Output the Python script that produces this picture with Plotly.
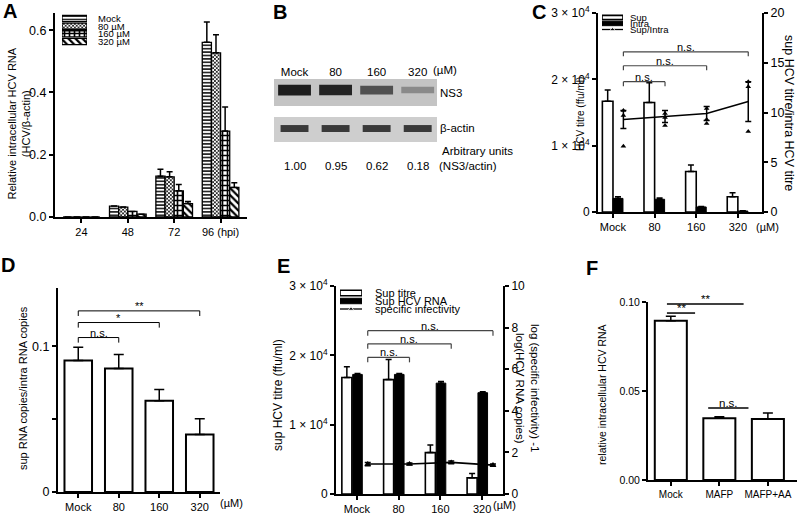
import plotly.graph_objects as go

W, H = 800, 514
def px(x): return x / W
def py(y): return 1 - y / H

FONT = "Arial, Liberation Sans, Helvetica, sans-serif"

# ---------------- Panel A data ----------------
a_times = ["24", "48", "72", "96"]
a_ticktext = ["24", "48", "72", "96 (hpi)"]
a_series = ["Mock", "80 µM", "160 µM", "320 µM"]
a_mock = [0.0, 0.035, 0.131, 0.561]
a_mock_err = [0.0, 0.0, 0.022, 0.065]
a_80 = [0.0, 0.032, 0.129, 0.527]
a_80_err = [0.0, 0.0, 0.016, 0.058]
a_160 = [0.0, 0.018, 0.084, 0.276]
a_160_err = [0.0, 0.0, 0.020, 0.077]
a_320 = [0.0, 0.009, 0.043, 0.095]
a_320_err = [0.0, 0.0, 0.007, 0.015]

# ---------------- Panel B data ----------------
b_lanes = ["Mock", "80", "160", "320"]
b_ns3_actin = ["1.00", "0.95", "0.62", "0.18"]
b_ns3_level = [1.00, 0.95, 0.62, 0.18]
b_actin_level = [1.0, 1.0, 1.0, 1.0]

# ---------------- Panel C data ----------------
c_doses = ["Mock", "80", "160", "320"]
c_sup = [16700, 16500, 6100, 2300]
c_sup_err = [1700, 3000, 1000, 600]
c_intra = [2050, 1920, 760, 150]
c_intra_err = [250, 200, 80, 40]
c_ratio = [9.3, 9.6, 9.9, 11.1]
c_ratio_err = [0.9, 0.6, 0.7, 2.0]
c_points = [[6.6, 9.7, 10.2], [8.7, 9.5, 9.9], [8.9, 9.3, 10.4], [8.1, 12.6, 13.1]]
c_sig = [(0, 1, 13.1, "n.s."), (0, 2, 14.7, "n.s."), (0, 3, 16.1, "n.s.")]

# ---------------- Panel D data ----------------
d_doses = ["Mock", "80", "160", "320"]
d_vals = [0.0902, 0.0847, 0.0627, 0.0394]
d_err = [0.0091, 0.0096, 0.0076, 0.0109]
d_sig = [(0, 1, 0.106, "n.s."), (0, 2, 0.1163, "*"), (0, 3, 0.1243, "**")]

# ---------------- Panel E data ----------------
e_doses = ["Mock", "80", "160", "320"]
e_titre = [16800, 16500, 5970, 2330]
e_titre_err = [1550, 2900, 1100, 630]
e_rna_log = [5.75, 5.75, 5.33, 4.87]
e_rna_err = [0.04, 0.04, 0.08, 0.04]
e_si = [1.44, 1.44, 1.52, 1.39]
e_si_err = [0.08, 0.05, 0.07, 0.05]
e_sig = [(0, 1, 6.57, "n.s."), (0, 2, 7.22, "n.s."), (0, 3, 7.85, "n.s.")]

# ---------------- Panel F data ----------------
f_groups = ["Mock", "MAFP", "MAFP+AA"]
f_vals = [0.0895, 0.0347, 0.0343]
f_err = [0.0025, 0.0008, 0.0033]
f_sig = [(-0.08, 0.5, 0.0938, "**"), (-0.08, 1.5, 0.0989, "**"), (0.77, 1.6, 0.0404, "n.s.")]

titre_ticks = [0, 10000, 20000, 30000]
titre_text = ["0", "1 × 10<sup>4</sup>", "2 × 10<sup>4</sup>", "3 × 10<sup>4</sup>"]

fig = go.Figure()
shapes = []
annotations = []

def tf(size):
    return dict(size=size, color="black", family=FONT)

def ax(**kw):
    d = dict(showline=True, linecolor="black", linewidth=2, ticks="outside", ticklen=4,
             tickwidth=1.5, tickcolor="black", showgrid=False, zeroline=False, automargin=False,
             tickfont=tf(11), fixedrange=True)
    d.update(kw)
    return d

def hidden(**kw):
    d = dict(visible=False, showgrid=False, zeroline=False, fixedrange=True, automargin=False)
    d.update(kw)
    return d

def text(x, y, t, size=10, xanchor="center", yanchor="middle", angle=0, bold=False, xref="paper", yref="paper", color="black", yshift=0):
    annotations.append(dict(x=x, y=y, xref=xref, yref=yref, text=("<b>%s</b>" % t) if bold else t,
                            showarrow=False, xanchor=xanchor, yanchor=yanchor, textangle=angle,
                            font=dict(size=size, color=color, family=FONT), yshift=yshift))

def bracket(xr, yr, x0, x1, y, drop, label, color, lw, size, ends=True):
    line = dict(color=color, width=lw)
    shapes.append(dict(type="line", xref=xr, yref=yr, x0=x0, x1=x1, y0=y, y1=y, line=line))
    if ends:
        shapes.append(dict(type="line", xref=xr, yref=yr, x0=x0, x1=x0, y0=y - drop, y1=y, line=line))
        shapes.append(dict(type="line", xref=xr, yref=yr, x0=x1, x1=x1, y0=y - drop, y1=y, line=line))
    text((x0 + x1) / 2, y, label, size=size, xref=xr, yref=yr, yanchor="bottom", yshift=-3)

def err(arr, color="black", w=3, sym=False):
    if sym:
        return dict(type="data", array=arr, symmetric=True, color=color, thickness=1.5, width=w)
    return dict(type="data", array=arr, arrayminus=[0] * len(arr), symmetric=False,
                color=color, thickness=1.5, width=w)

# ================= Panel A =================
a_vals = [a_mock, a_80, a_160, a_320]
a_errs = [a_mock_err, a_80_err, a_160_err, a_320_err]
a_pats = [("-", 3.4, 0.42), ("x", 2.6, 0.5), ("+", 5, 0.55), ("\\", 5, 0.45)]
for name, v, e, p in zip(a_series, a_vals, a_errs, a_pats):
    mk = dict(color="white", line=dict(color="black", width=1.3),
              pattern=dict(shape=p[0], size=p[1], solidity=p[2], fgcolor="black", bgcolor="white"))
    fig.add_trace(go.Bar(x=a_times, y=v, name=name, xaxis="x", yaxis="y", marker=mk,
                         error_y=err(e), showlegend=False))
    fig.add_trace(go.Bar(x=[1], y=[name], orientation="h", xaxis="x9", yaxis="y9", marker=mk,
                         width=0.8, offset=-0.4, showlegend=False))
    text(px(96), name, name, size=9.5, xanchor="left", yref="y9")

fig.update_layout(
    xaxis=ax(domain=[px(55), px(247)], range=[-0.57, 3.57], type="category", anchor="y",
             tickvals=a_times, ticktext=a_ticktext),
    yaxis=ax(domain=[py(217), py(13)], range=[0, 0.655], tickvals=[0, 0.2, 0.4, 0.6],
             tickformat=".1f", anchor="x", tickfont=tf(12.5)),
    xaxis9=hidden(domain=[px(62), px(87)], range=[0, 1], anchor="y9"),
    yaxis9=hidden(domain=[py(49), py(11)], type="category", categoryorder="array",
                  categoryarray=a_series, autorange="reversed", anchor="x9"),
)
text(px(18.5), py(124), "Relative intracellular HCV RNA<br>(HCV/β-actin)", size=11, angle=-90)

# ================= Panel B =================
shapes.append(dict(type="rect", xref="x2 domain", yref="y2", x0=0, x1=1, y0=0.571, y1=1,
                   fillcolor="rgb(196,196,196)", line=dict(width=0), layer="below"))
shapes.append(dict(type="rect", xref="x2 domain", yref="y2", x0=0, x1=1, y0=0, y1=0.397,
                   fillcolor="rgb(206,206,206)", line=dict(width=0), layer="below"))
ns3_col = ["rgba(25,25,25,%.2f)" % (0.2 + 0.78 * v) for v in b_ns3_level]
ns3_h = [0.09 + 0.08 * v for v in b_ns3_level]
fig.add_trace(go.Bar(x=b_lanes, y=ns3_h, base=[0.825 - h / 2 for h in ns3_h], xaxis="x2", yaxis="y2",
                     width=0.8, offset=-0.4, marker=dict(color=ns3_col, line=dict(width=0)), showlegend=False))
act_col = ["rgba(30,30,30,%.2f)" % (0.85 * v) for v in b_actin_level]
fig.add_trace(go.Bar(x=b_lanes, y=[0.11] * 4, base=[0.214 - 0.055] * 4, xaxis="x2", yaxis="y2",
                     width=0.68, offset=-0.34, marker=dict(color=act_col, line=dict(width=0)), showlegend=False))
fig.update_layout(
    xaxis2=dict(domain=[px(274), px(437)], range=[-0.5, 3.47], type="category", side="top",
                showline=False, ticks="", showgrid=False, zeroline=False, anchor="y2", automargin=False,
                tickfont=tf(11.5), fixedrange=True),
    yaxis2=hidden(domain=[py(142), py(79)], range=[0, 1], anchor="x2"),
)
text(px(445), py(70), "(µM)", size=11.5)
text(px(438), py(93), "NS3", size=11.5, xanchor="left")
text(px(438), py(128), "β-actin", size=11.5, xanchor="left")
text(px(440), py(151), "Arbitrary units", size=11.5, xanchor="left")
for i, val in enumerate(b_ns3_actin):
    text(i, py(166), val, size=11.5, xref="x2")
text(px(437), py(166), "(NS3/actin)", size=11.5, xanchor="left")

# ================= Panel C =================
fig.add_trace(go.Bar(x=c_doses, y=c_sup, xaxis="x3", yaxis="y3", width=0.255, offset=-0.255,
                     marker=dict(color="white", line=dict(color="black", width=1.6)),
                     error_y=err(c_sup_err), showlegend=False))
fig.add_trace(go.Bar(x=c_doses, y=c_intra, xaxis="x3", yaxis="y3", width=0.24, offset=0,
                     marker=dict(color="black", line=dict(color="black", width=1)),
                     error_y=err(c_intra_err), showlegend=False))
fig.add_trace(go.Scatter(x=c_doses, y=c_ratio, xaxis="x4", yaxis="y4", mode="lines",
                         line=dict(color="black", width=1.6), error_y=err(c_ratio_err, sym=True),
                         showlegend=False))
cx, cy = [], []
for d, pts in zip(c_doses, c_points):
    for p in pts:
        cx.append(d); cy.append(p)
fig.add_trace(go.Scatter(x=cx, y=cy, xaxis="x4", yaxis="y4", mode="markers",
                         marker=dict(symbol="triangle-up", size=5, color="black"), showlegend=False))
for x0, x1, y, lab in c_sig:
    bracket("x4", "y4", x0, x1, y, 0.45, lab, "rgb(70,70,70)", 1.2, 11)

c_leg = ["Sup", "Intra", "Sup/Intra"]
fig.add_trace(go.Bar(x=[1], y=["Sup"], orientation="h", xaxis="x10", yaxis="y10", width=0.72, offset=-0.36,
                     marker=dict(color="white", line=dict(color="black", width=1.6)), showlegend=False))
fig.add_trace(go.Bar(x=[1], y=["Intra"], orientation="h", xaxis="x10", yaxis="y10", width=0.72, offset=-0.36,
                     marker=dict(color="black", line=dict(color="black", width=1)), showlegend=False))
fig.add_trace(go.Scatter(x=[0, 0.5, 1], y=["Sup/Intra"] * 3, xaxis="x10", yaxis="y10", mode="lines+markers",
                         line=dict(color="black", width=1.3),
                         marker=dict(symbol="triangle-up", size=[0, 5, 0], color="black"), showlegend=False))
for n in c_leg:
    text(px(628), n, n, size=9.5, xanchor="left", yref="y10")

fig.update_layout(
    xaxis3=ax(domain=[px(598), px(762)], range=[-0.36, 3.58], type="category", anchor="y3"),
    yaxis3=ax(domain=[py(212), py(13)], range=[0, 30000], tickvals=titre_ticks,
              ticktext=titre_text, anchor="x3", tickfont=tf(12)),
    xaxis4=hidden(overlaying="x3", range=[-0.61, 3.33], type="category", categoryorder="array",
                  categoryarray=c_doses, anchor="y3"),
    yaxis4=ax(overlaying="y3", side="right", anchor="x3", range=[0, 20], tickvals=[0, 5, 10, 15, 20],
              tickfont=tf(12.5)),
    xaxis10=hidden(domain=[px(602), px(623)], range=[0, 1], anchor="y10"),
    yaxis10=hidden(domain=[py(37), py(10)], type="category", categoryorder="array",
                   categoryarray=c_leg, autorange="reversed", anchor="x10"),
)
text(px(580), py(114), "HCV titre (ffu/ml)", size=10, angle=-90)
text(px(789), py(113), "sup HCV titre/intra HCV titre", size=12.5, angle=90)
text(px(767), py(227), "(µM)", size=11)

# ================= Panel D =================
fig.add_trace(go.Bar(x=d_doses, y=d_vals, xaxis="x5", yaxis="y5", width=0.68,
                     marker=dict(color="white", line=dict(color="black", width=2)),
                     error_y=err(d_err, w=5), showlegend=False))
for x0, x1, y, lab in d_sig:
    bracket("x5", "y5", x0, x1, y, 0.0035, lab, "black", 1, 11)
fig.update_layout(
    xaxis5=ax(domain=[px(58), px(220)], range=[-0.5, 3.5], type="category", anchor="y5"),
    yaxis5=ax(domain=[py(492), py(288)], range=[0, 0.14], tickvals=[0, 0.05, 0.1],
              ticktext=["0", "", "0.1"], anchor="x5", tickfont=tf(12.5)),
)
text(px(23), py(388), "sup RNA copies/intra RNA copies", size=11, angle=-90)
text(px(232), py(503), "(µM)", size=11)

# ================= Panel E =================
fig.add_trace(go.Bar(x=e_doses, y=e_titre, xaxis="x6", yaxis="y6", width=0.24, offset=-0.36,
                     marker=dict(color="white", line=dict(color="black", width=1.6)),
                     error_y=err(e_titre_err), showlegend=False))
fig.add_trace(go.Bar(x=e_doses, y=e_rna_log, xaxis="x6", yaxis="y7", width=0.23, offset=-0.1,
                     marker=dict(color="black", line=dict(color="black", width=1)),
                     error_y=err(e_rna_err), showlegend=False))
fig.add_trace(go.Scatter(x=e_doses, y=e_si, xaxis="x7", yaxis="y7", mode="lines+markers",
                         line=dict(color="black", width=1.6),
                         marker=dict(symbol="triangle-up", size=6, color="black"),
                         error_y=err(e_si_err, sym=True), showlegend=False))
for x0, x1, y, lab in e_sig:
    bracket("x7", "y7", x0, x1, y, 0.24, lab, "rgb(70,70,70)", 1.2, 11)

e_leg = ["Sup titre", "Sup HCV RNA", "specific infectivity"]
fig.add_trace(go.Bar(x=[1], y=["Sup titre"], orientation="h", xaxis="x11", yaxis="y11", width=0.68, offset=-0.34,
                     marker=dict(color="white", line=dict(color="black", width=1.6)), showlegend=False))
fig.add_trace(go.Bar(x=[1], y=["Sup HCV RNA"], orientation="h", xaxis="x11", yaxis="y11", width=0.68, offset=-0.34,
                     marker=dict(color="black", line=dict(color="black", width=1)), showlegend=False))
fig.add_trace(go.Scatter(x=[0, 0.5, 1], y=["specific infectivity"] * 3, xaxis="x11", yaxis="y11",
                         mode="lines+markers", line=dict(color="black", width=1.3),
                         marker=dict(symbol="triangle-up", size=[0, 5, 0], color="black"), showlegend=False))
for n in e_leg:
    text(px(373), n, n, size=11, xanchor="left", yref="y11")

fig.update_layout(
    xaxis6=ax(domain=[px(336), px(503)], range=[-0.5, 3.5], type="category", anchor="y6"),
    yaxis6=ax(domain=[py(494), py(286)], range=[0, 30000], tickvals=titre_ticks,
              ticktext=titre_text, anchor="x6", tickfont=tf(12)),
    xaxis7=hidden(overlaying="x6", range=[-0.76, 3.24], type="category", categoryorder="array",
                  categoryarray=e_doses, anchor="y6"),
    yaxis7=ax(overlaying="y6", side="right", anchor="x6", range=[0, 10], tickvals=[0, 2, 4, 6, 8, 10],
              tickfont=tf(12)),
    xaxis11=hidden(domain=[px(340), px(362)], range=[0, 1], anchor="y11"),
    yaxis11=hidden(domain=[py(317), py(285)], type="category", categoryorder="array",
                   categoryarray=e_leg, autorange="reversed", anchor="x11"),
)
text(px(278), py(395), "sup HCV titre (ffu/ml)", size=12, angle=-90)
text(px(528), py(388), "log (specific infectivity) -1<br>log(HCV RNA copies)", size=11.5, angle=90)
text(px(504), py(505), "(µM)", size=11)

# ================= Panel F =================
fig.add_trace(go.Bar(x=f_groups, y=f_vals, xaxis="x8", yaxis="y8", width=0.66,
                     marker=dict(color="white", line=dict(color="black", width=2)),
                     error_y=err(f_err, w=5), showlegend=False))
for x0, x1, y, lab in f_sig:
    bracket("x8", "y8", x0, x1, y, 0, lab, "black", 1.5, 11.5, ends=False)
fig.update_layout(
    xaxis8=ax(domain=[px(648), px(797)], range=[-0.47, 2.6], type="category", anchor="y8",
              tickfont=tf(10)),
    yaxis8=ax(domain=[py(480), py(302)], range=[0, 0.1], tickvals=[0, 0.05, 0.1], tickformat=".2f",
              anchor="x8", tickfont=tf(10.5)),
)
text(px(602), py(395), "relative intracellular HCV RNA", size=10.5, angle=-90)

# ================= Panel letters =================
for lab, x, y in [("A", 10, 11), ("B", 280, 12), ("C", 539, 12), ("D", 8, 265), ("E", 283, 266), ("F", 592, 268)]:
    text(px(x), py(y), lab, size=20, bold=True)

fig.update_layout(
    template="none",
    width=W, height=H, margin=dict(l=0, r=0, t=0, b=0, autoexpand=False),
    paper_bgcolor="white", plot_bgcolor="white",
    font=dict(family=FONT, color="black"),
    barmode="group", bargap=0.21, bargroupgap=0,
    showlegend=False, shapes=shapes, annotations=annotations,
)

fig.write_html("out.html", config={"displayModeBar": False},
               post_script="document.body.style.margin='0px';document.body.style.padding='0px';")
